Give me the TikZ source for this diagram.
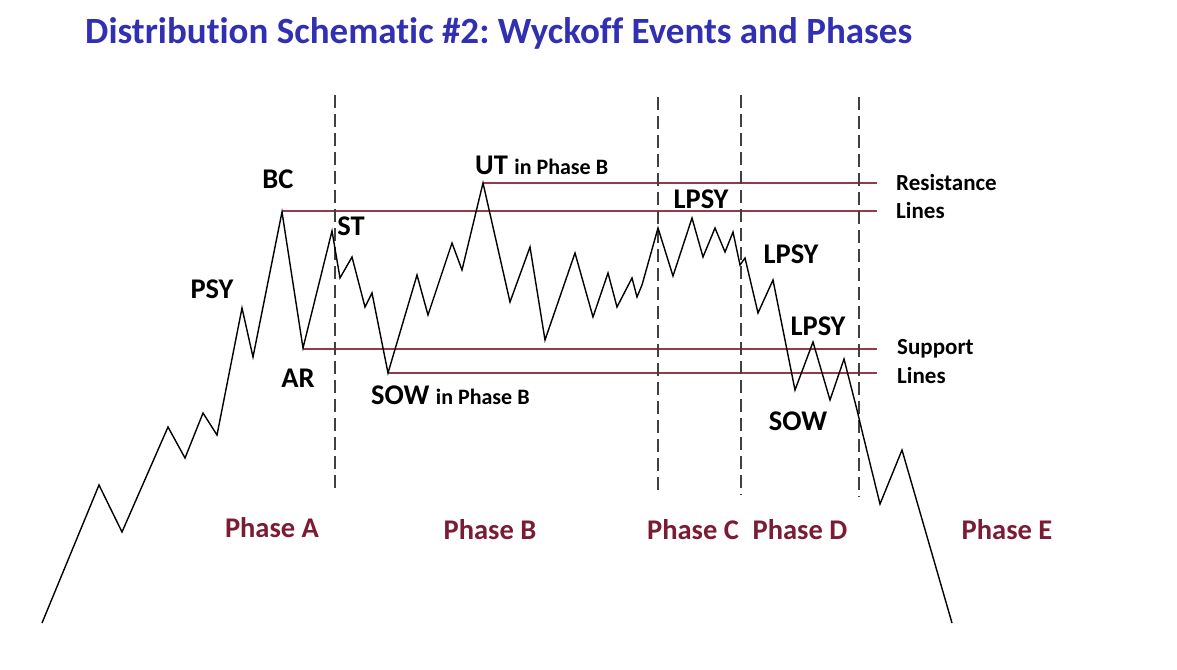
\documentclass[tikz,border=0pt]{standalone}
\usepackage{fontspec}
\setmainfont{Carlito}[Ligatures=NoCommon]
\usetikzlibrary{positioning}
\definecolor{titleblue}{RGB}{50,48,178}
\definecolor{phasered}{RGB}{122,28,52}
\definecolor{levelred}{RGB}{146,58,78}
\frenchspacing
\begin{document}
\begin{tikzpicture}[x=1pt, y=-1pt,
                    eventlabel/.style={font=\fontsize{28.5}{30}\selectfont\bfseries, inner sep=0pt},
                    smalllabel/.style={font=\fontsize{23}{25}\selectfont\bfseries, inner sep=0pt},
                    phaselabel/.style={font=\fontsize{28.5}{30}\selectfont\bfseries, text=phasered, inner sep=0pt},
                    levelline/.style={levelred, line width=1.3pt},
                    phaseline/.style={black!75, line width=1.6pt, dash pattern=on 13pt off 6pt},
                    priceline/.style={black, line width=1.4pt, line join=miter},
                   ]
  \useasboundingbox (0,0) rectangle (1177,669);
  \fill[white] (0,0) rectangle (1177,669);

  %Title
  \node[anchor=west, inner sep=0pt, text=titleblue, font=\fontsize{37}{39}\selectfont\bfseries]
       (title) at (85,33) {Distribution Schematic \#2: Wyckoff Events and Phases};

  %Key points
  \coordinate (bc)  at (282,212);
  \coordinate (ar)  at (303,348);
  \coordinate (st)  at (332,231);
  \coordinate (sow) at (388,373);
  \coordinate (ut)  at (483,183);
  \coordinate (utend)  at (877,183);
  \coordinate (bcend)  at (877,211);
  \coordinate (arend)  at (877,349);
  \coordinate (sowend) at (877,373);

  %Phase dividers
  \coordinate (ab_top) at (335,95);  \coordinate (ab_bot) at (335,493);
  \coordinate (bc_top) at (658,97);  \coordinate (bc_bot) at (658,495);
  \coordinate (cd_top) at (741,95);  \coordinate (cd_bot) at (741,495);
  \coordinate (de_top) at (859,97);  \coordinate (de_bot) at (859,497);

  %Levels
  \draw[levelline] (ut) -- (utend);
  \draw[levelline] (bc |- bcend) -- (bcend);
  \draw[levelline] (ar |- arend) -- (arend);
  \draw[levelline] (sow) -- (sowend);

  %Dividers
  \draw[phaseline] (ab_top) -- (ab_bot);
  \draw[phaseline] (bc_top) -- (bc_bot);
  \draw[phaseline] (cd_top) -- (cd_bot);
  \draw[phaseline] (de_top) -- (de_bot);

  %Price
  \draw[priceline] (42,623) -- (99,485) -- (122,532) -- (168,427) -- (185,458) -- (203,413)
        -- (217,435) -- (242,308) -- (253,357) -- (bc) -- (ar) -- (st) -- (340,278)
        -- (352,257) -- (365,307) -- (372,293) -- (sow) -- (417,275) -- (428,315)
        -- (452,243) -- (462,270) -- (ut) -- (510,302) -- (530,247) -- (545,340)
        -- (575,253) -- (593,317) -- (608,273) -- (617,307) -- (632,278) -- (637,297)
        -- (642,285) -- (658,228) -- (673,276) -- (692,218) -- (703,257) -- (715,228)
        -- (725,252) -- (733,232) -- (740,265) -- (745,258) -- (758,313) -- (773,280)
        -- (795,390) -- (813,342) -- (830,400) -- (844,359) -- (857,410) -- (863,435)
        -- (880,504) -- (902,450) -- (952,623);

  %Events
  \node[eventlabel] (bc_lbl)    at (278,179) {BC};
  \node[eventlabel] (psy_lbl)   at (212,289) {PSY};
  \node[eventlabel] (ar_lbl)    at (298,378) {AR};
  \node[eventlabel] (st_lbl)    at (351,226) {ST};
  \node[eventlabel, anchor=west] (ut_lbl)  at (475,165) {UT \fontsize{22}{24}\selectfont in Phase B};
  \node[eventlabel, anchor=west] (sow_lbl) at (371,395) {SOW \fontsize{22}{24}\selectfont in Phase B};
  \node[eventlabel] (lpsy1_lbl) at (701,199) {LPSY};
  \node[eventlabel] (lpsy2_lbl) at (791,254) {LPSY};
  \node[eventlabel] (lpsy3_lbl) at (818,326) {LPSY};
  \node[eventlabel] (sow2_lbl)  at (798,421) {SOW};

  %Level names
  \node[smalllabel, anchor=west] (res1) at (896,183) {Resistance};
  \node[smalllabel, anchor=west] (res2) at (896,211) {Lines};
  \node[smalllabel, anchor=west] (sup1) at (897,349) {Support};
  \node[smalllabel, anchor=west] (sup2) at (897,376) {Lines};

  %Phases
  \node[phaselabel] (phase_a) at (272,528)  {Phase A};
  \node[phaselabel] (phase_b) at (490,530)  {Phase B};
  \node[phaselabel] (phase_c) at (693,530)  {Phase C};
  \node[phaselabel] (phase_d) at (800,530)  {Phase D};
  \node[phaselabel] (phase_e) at (1007,530) {Phase E};
\end{tikzpicture}
\end{document}
